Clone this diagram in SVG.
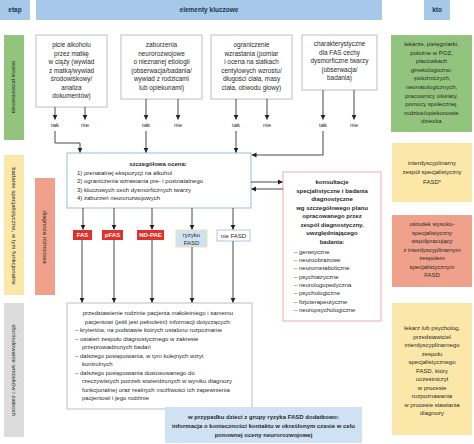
<svg xmlns="http://www.w3.org/2000/svg" width="474" height="444" viewBox="0 0 474 444">
<style>
text{font-family:"Liberation Sans",Arial,sans-serif;font-size:6px;fill:#2a2a2a}
.c{text-anchor:middle}
.b{font-weight:bold}
.t{font-size:6.4px}
.hd{font-size:6.5px;font-weight:bold;fill:#1f3550}
.w{fill:#fff;font-weight:bold}
.box{fill:#fff;stroke:#c8c8c8;stroke-width:1.2}
.ln{fill:none;stroke:#333;stroke-width:0.9}
.ar{marker-end:url(#ah)}
</style>
<defs>
<marker id="ah" markerWidth="6" markerHeight="6" refX="4.5" refY="3" orient="auto" markerUnits="userSpaceOnUse">
<path d="M0,0.6 L4.8,3 L0,5.4 z" fill="#222"/>
</marker>
</defs>
<rect width="474" height="444" fill="#fff"/>

<g id="headers">
<rect x="0" y="0" width="30" height="20" fill="#a6c9ea"/>
<text class="hd c" x="15" y="12">etap</text>
<rect x="36" y="0" width="346" height="20" fill="#a6c9ea"/>
<text class="hd c" x="209" y="12">elementy kluczowe</text>
<rect x="424" y="0" width="26" height="20" fill="#a6c9ea"/>
<text class="hd c" x="437" y="12">kto</text>
</g>

<g id="stages">
<rect x="4" y="35" width="20" height="105" fill="#93c47d"/>
<text class="c" transform="translate(14,87) rotate(90)" dy="2">ocena przesiewowa</text>
<rect x="4" y="155" width="20" height="140" fill="#fbe8a8"/>
<text class="c" transform="translate(14,226) rotate(90)" dy="2">badanie specjalistyczne, w tym funkcjonalne</text>
<rect x="35" y="178" width="20" height="117" fill="#f0a18b"/>
<text class="c" transform="translate(45,237) rotate(90)" dy="2">diagnoza różnicowa</text>
<rect x="4" y="303" width="20" height="134" fill="#dcdcdc"/>
<text class="c" transform="translate(14,370) rotate(90)" dy="2">sformułowanie wniosków i zaleceń</text>
</g>

<g id="box1">
<rect class="box" x="36" y="35" width="71" height="72"/>
<text class="c t" x="71.5" y="47">picie alkoholu</text>
<text class="c t" x="71.5" y="55.5">przez matkę</text>
<text class="c t" x="71.5" y="64">w ciąży (wywiad</text>
<text class="c t" x="71.5" y="72.5">z matką/wywiad</text>
<text class="c t" x="71.5" y="81">środowiskowy/</text>
<text class="c t" x="71.5" y="89.5">analiza</text>
<text class="c t" x="71.5" y="98">dokumentów)</text>
</g>
<g id="box2">
<rect class="box" x="121" y="35" width="81" height="64"/>
<text class="c t" x="161.5" y="47">zaburzenia</text>
<text class="c t" x="161.5" y="55.5">neurorozwojowe</text>
<text class="c t" x="161.5" y="64">o nieznanej etiologii</text>
<text class="c t" x="161.5" y="72.5">(obserwacja/badania/</text>
<text class="c t" x="161.5" y="81">wywiad z rodzicami</text>
<text class="c t" x="161.5" y="89.5">lub opiekunami)</text>
</g>
<g id="box3">
<rect class="box" x="211" y="35" width="81" height="64"/>
<text class="c t" x="251.5" y="47">ograniczenie</text>
<text class="c t" x="251.5" y="55.5">wzrastania (pomiar</text>
<text class="c t" x="251.5" y="64">i ocena na siatkach</text>
<text class="c t" x="251.5" y="72.5">centylowych wzrostu/</text>
<text class="c t" x="251.5" y="81">długości ciała, masy</text>
<text class="c t" x="251.5" y="89.5">ciała, obwodu głowy)</text>
</g>
<g id="box4">
<rect class="box" x="302" y="35" width="75" height="55"/>
<text class="c t" x="339.5" y="46">charakterystyczne</text>
<text class="c t" x="339.5" y="54.5">dla FAS cechy</text>
<text class="c t" x="339.5" y="63">dysmorficzne twarzy</text>
<text class="c t" x="339.5" y="71.5">(obserwacja/</text>
<text class="c t" x="339.5" y="80">badania)</text>
</g>

<g id="who1">
<rect x="391" y="35" width="81" height="97" fill="#93c47d"/>
<text class="c" x="431.5" y="46">lekarze, pielęgniarki,</text>
<text class="c" x="431.5" y="54.6">położne w POZ,</text>
<text class="c" x="431.5" y="63.2">placówkach</text>
<text class="c" x="431.5" y="71.8">ginekologiczno-</text>
<text class="c" x="431.5" y="80.4">-położniczych,</text>
<text class="c" x="431.5" y="89">neonatologicznych,</text>
<text class="c" x="431.5" y="97.6">pracownicy oświaty,</text>
<text class="c" x="431.5" y="106.2">pomocy społecznej,</text>
<text class="c" x="431.5" y="114.8">rodzice/opiekunowie</text>
<text class="c" x="431.5" y="123.4">dziecka</text>
</g>
<g id="who2">
<rect x="392" y="143" width="80" height="59" fill="#fbe8a8"/>
<text class="c" x="432" y="165">interdyscyplinarny</text>
<text class="c" x="432" y="174">zespół specjalistyczny</text>
<text class="c" x="432" y="183.5">FASD<tspan font-size="4" dy="-2">a</tspan></text>
</g>
<g id="who3">
<rect x="392" y="215" width="80" height="72" fill="#f0a18b"/>
<text class="c" x="432" y="226">ośrodek wysoko-</text>
<text class="c" x="432" y="234.5">specjalistyczny</text>
<text class="c" x="432" y="243">współpracujący</text>
<text class="c" x="432" y="251.5">z interdyscyplinarnym</text>
<text class="c" x="432" y="260">zespołem</text>
<text class="c" x="432" y="268.5">specjalistycznym</text>
<text class="c" x="432" y="277">FASD</text>
</g>
<g id="who4">
<rect x="392" y="303" width="80" height="132" fill="#fbe8a8"/>
<text class="c" x="432" y="330">lekarz lub psycholog,</text>
<text class="c" x="432" y="338.5">przedstawiciel</text>
<text class="c" x="432" y="347">interdyscyplinarnego</text>
<text class="c" x="432" y="355.5">zespołu</text>
<text class="c" x="432" y="364">specjalistycznego</text>
<text class="c" x="432" y="372.5">FASD, który</text>
<text class="c" x="432" y="381">uczestniczył</text>
<text class="c" x="432" y="389.5">w procesie</text>
<text class="c" x="432" y="398">rozpoznawania</text>
<text class="c" x="432" y="406.5">w procesie stawiania</text>
<text class="c" x="432" y="415">diagnozy</text>
</g>

<g id="labels-taknie">
<text class="c" x="55" y="127">tak</text>
<text class="c" x="85" y="127">nie</text>
<text class="c" x="146" y="127">tak</text>
<text class="c" x="178" y="127">nie</text>
<text class="c" x="236" y="127">tak</text>
<text class="c" x="267" y="127">nie</text>
<text class="c" x="323" y="127">tak</text>
<text class="c" x="354" y="127">nie</text>
</g>

<g id="detail">
<rect x="67" y="153" width="184" height="55" fill="#fff" stroke="#a9c9e2" stroke-width="1.2"/>
<text class="c b" x="158" y="166">szczegółowa ocena:</text>
<text x="77" y="175">1) prenatalnej ekspozycji na alkohol</text>
<text x="77" y="183.3">2) ograniczenia wzrastania pre- i postnatalnego</text>
<text x="77" y="191.6">3) kluczowych cech dysmorficznych twarzy</text>
<text x="77" y="200">4) zaburzeń neurorozwojowych</text>
</g>

<g id="consult">
<rect x="283" y="172" width="98" height="149" fill="#fff" stroke="#f2b8c0" stroke-width="1.2"/>
<text class="c b" x="332" y="184">konsultacje</text>
<text class="c b" x="332" y="192.5">specjalistyczne i badania</text>
<text class="c b" x="332" y="201">diagnostyczne</text>
<text class="c b" x="332" y="209.5">wg szczegółowego planu</text>
<text class="c b" x="332" y="218">opracowanego przez</text>
<text class="c b" x="332" y="226.5">zespół diagnostyczny,</text>
<text class="c b" x="332" y="235">uwzględniającego</text>
<text class="c b" x="332" y="243.5">badania:</text>
<text x="294" y="253.5">– genetyczne</text>
<text x="294" y="261.5">– neuroobrazowe</text>
<text x="294" y="270">– neurometaboliczne</text>
<text x="294" y="278.5">– psychiatryczne</text>
<text x="294" y="286.5">– neurologopedyczna</text>
<text x="294" y="295">– psychologiczne</text>
<text x="294" y="303.5">– fizjoterapeutyczne</text>
<text x="294" y="312">– neuropsychologiczne</text>
</g>

<g id="dx-FAS">
<rect x="73" y="230" width="19" height="10" fill="#e2302c"/>
<text class="c w" x="82.5" y="237.2">FAS</text>
</g>
<g id="dx-pFAS">
<rect x="102" y="230" width="21" height="10" fill="#e2302c"/>
<text class="c w" x="112.5" y="237.2">pFAS</text>
</g>
<g id="dx-NDPAE">
<rect x="137" y="230" width="27" height="10" fill="#e2302c"/>
<text class="c w" x="150.5" y="237.2">ND-PAE</text>
</g>
<g id="dx-ryzyko">
<rect x="176" y="230" width="31" height="17" fill="#cfe2f3" stroke="#f3e3a6" stroke-width="1"/>
<text class="c" x="191.5" y="237">ryzyko</text>
<text class="c" x="191.5" y="244.5">FASD</text>
</g>
<g id="dx-nie">
<rect x="217" y="230" width="33" height="11" fill="#fff" stroke="#a9c9e2" stroke-width="1"/>
<text class="c" x="233.5" y="237.5">nie FASD</text>
</g>

<g id="conclusions">
<rect class="box" x="67" y="303" width="185" height="106"/>
<text class="c" x="158" y="315">przedstawienie rodzinie pacjenta małoletniego i samemu</text>
<text class="c" x="158" y="323.5">pacjentowi (jeśli jest pełnoletni) informacji dotyczących:</text>
<text x="75" y="332">– kryteriów, na podstawie których ustalono rozpoznanie</text>
<text x="75" y="340.5">– ustaleń zespołu diagnostycznego w zakresie</text>
<text x="82" y="349">przeprowadzonych badań</text>
<text x="75" y="357.5">– dalszego postępowania, w tym kolejnych wizyt</text>
<text x="82" y="366">kontrolnych</text>
<text x="75" y="374.5">– dalszego postępowania dostosowanego do</text>
<text x="82" y="383">rzeczywistych potrzeb stwierdzonych w wyniku diagnozy</text>
<text x="82" y="391.5">funkcjonalnej oraz realnych możliwości ich zapewnienia</text>
<text x="82" y="400">pacjentowi i jego rodzinie</text>
</g>

<g id="note">
<rect x="165" y="407" width="197" height="36" fill="#cfe2f3"/>
<text class="c b" x="263.5" y="419">w przypadku dzieci z grupy ryzyka FASD dodatkowo:</text>
<text class="c b" x="263.5" y="428">informacja o konieczności kontaktu w określonym czasie w celu</text>
<text class="c b" x="263.5" y="437">ponownej oceny neurorozwojowej</text>
</g>

<g id="connectors">
<path class="ln ar" d="M55,107 V119.5"/>
<path class="ln ar" d="M85,107 V119.5"/>
<path class="ln ar" d="M146,99 V119.5"/>
<path class="ln ar" d="M178,99 V119.5"/>
<path class="ln ar" d="M236,99 V119.5"/>
<path class="ln ar" d="M267,99 V119.5"/>
<path class="ln ar" d="M323,90 V119.5"/>
<path class="ln ar" d="M354,90 V119.5"/>
<path class="ln ar" d="M55,131 V143 H80 V152.5"/>
<path class="ln ar" d="M146,131 V152.5"/>
<path class="ln ar" d="M236,131 V152.5"/>
<path class="ln ar" d="M323,131 V155 H252"/>
<path class="ln ar" d="M251,182 H282.5"/>
<path class="ln ar" d="M283,189 H251.5"/>
<path class="ln ar" d="M83,208 V229.5"/>
<path class="ln ar" d="M114,208 V229.5"/>
<path class="ln ar" d="M152,208 V229.5"/>
<path class="ln ar" d="M192,208 V229.5"/>
<path class="ln ar" d="M233,208 V229.5"/>
<path class="ln ar" d="M82,240 V302.5"/>
<path class="ln ar" d="M114,240 V302.5"/>
<path class="ln ar" d="M152,240 V302.5"/>
<path class="ln ar" d="M192,247 V302.5"/>
<path class="ln ar" d="M233,241 V302.5"/>
</g>
</svg>
